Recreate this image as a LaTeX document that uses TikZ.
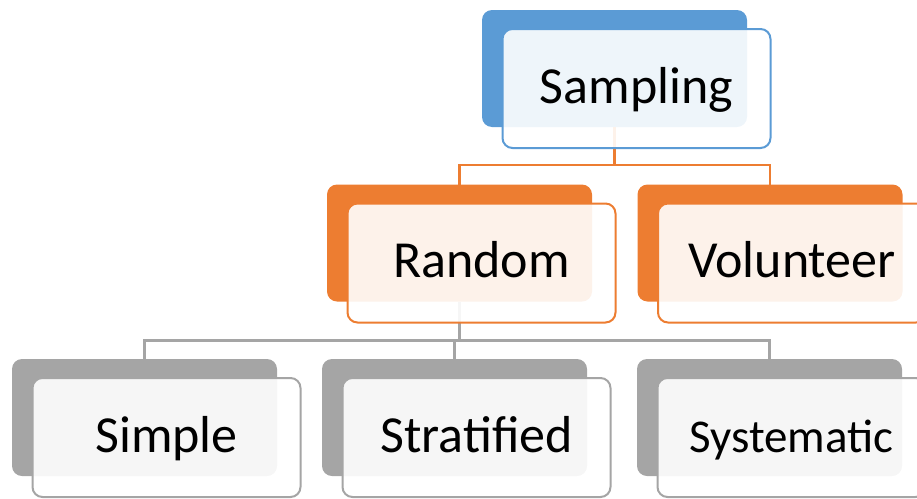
\documentclass[tikz,border=0pt]{standalone}
\usepackage{fontspec}
\setmainfont{Carlito}
\usetikzlibrary{calc}

\definecolor{rootblue}{HTML}{5B9BD5}
\definecolor{levelorange}{HTML}{ED7D31}
\definecolor{levelgray}{HTML}{A5A5A5}

\tikzstyle{box back}=[rectangle,rounded corners=10pt,minimum width=265pt,
    minimum height=117pt,inner sep=0pt,outer sep=0pt]
\tikzstyle{box front}=[draw,line width=2pt,rounded corners=10pt,
    fill=white,fill opacity=0.9,text opacity=1,
    minimum width=268pt,minimum height=119pt,inner sep=0pt,outer sep=0pt,
    text height=33pt,text depth=4pt,font=\fontsize{52}{60}\selectfont]
\tikzstyle{link}=[line width=2.4pt]
\newcommand{\backbox}[3]{
    \node[box back,fill=#3] at (#1) (#2) {};
}
\newcommand{\frontbox}[4][]{
    \node[box front,draw=#3,#1] at ($(#2)+(22,20)$) (#2 front) {#4};
}

\begin{document}
\begin{tikzpicture}[x=1pt,y=-1pt]
    \useasboundingbox (0,0) rectangle (917,498);
    \backbox{614.5,68.5}{Sampling}{rootblue}
    %
    \backbox{459.5,243}{Random}{levelorange}
    \backbox{770,243}{Volunteer}{levelorange}
    %
    \backbox{144.5,417.5}{Simple}{levelgray}
    \backbox{454.5,417.5}{Stratified}{levelgray}
    \backbox{769.5,417.5}{Systematic}{levelgray}
    %
    \draw[link,levelorange] (Sampling.south) -- ++(0,38) coordinate (fork top);
    \draw[link,levelorange] (fork top) -| (Random.north);
    \draw[link,levelorange] (fork top) -| (Volunteer.north);
    \draw[link,levelgray] (Random.south) -- ++(0,39) coordinate (fork bottom);
    \draw[link,levelgray] (fork bottom) -| (Simple.north);
    \draw[link,levelgray] (fork bottom) -| (Stratified.north);
    \draw[link,levelgray] (fork bottom) -| (Systematic.north);
    %
    \frontbox{Sampling}{rootblue}{Sampling}
    \frontbox{Random}{levelorange}{Random}
    \frontbox{Volunteer}{levelorange}{Volunteer}
    \frontbox{Simple}{levelgray}{Simple}
    \frontbox{Stratified}{levelgray}{Stratified}
    \frontbox[font=\fontsize{47}{56}\selectfont]{Systematic}{levelgray}{Systematic}
\end{tikzpicture}
\end{document}
